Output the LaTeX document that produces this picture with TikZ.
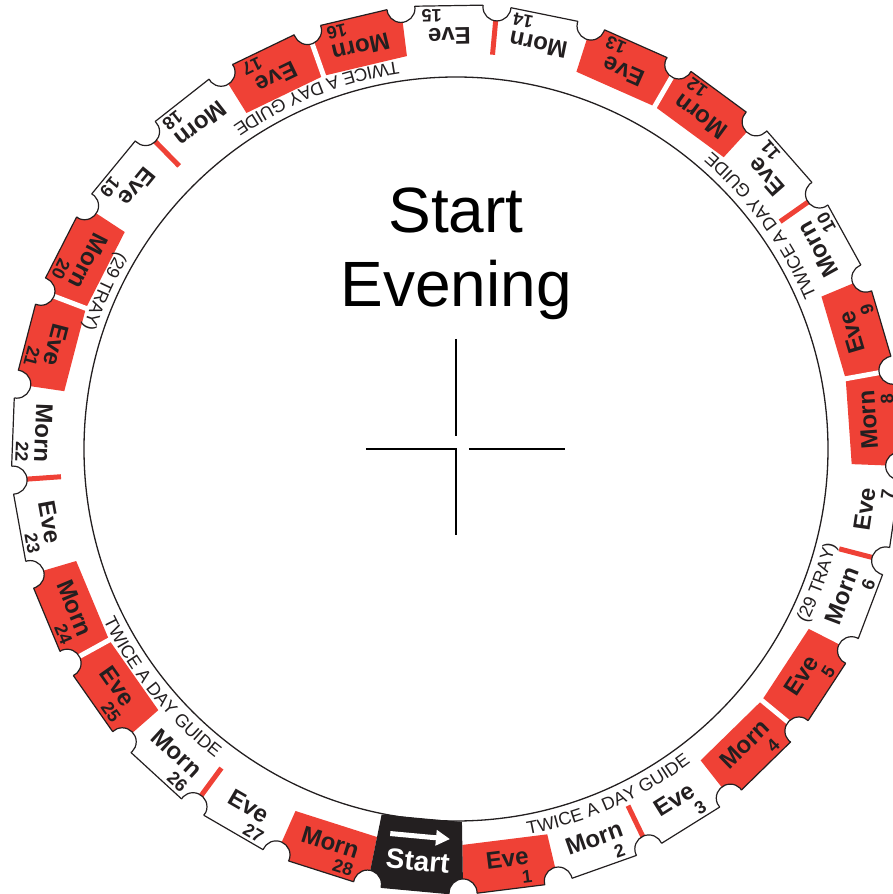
\documentclass[tikz,border=0pt]{standalone}
\usepackage{fontspec}
\setmainfont{Liberation Sans}
\usetikzlibrary{decorations.text,arrows.meta}
\definecolor{rouge}{RGB}{239,65,54}
\definecolor{encre}{RGB}{35,31,32}
\newcommand\taille[1]{\fontsize{#1}{#1}\selectfont}
\newcommand\guidefont{\fontsize{18}{18}\selectfont}
\def\pas{12.41379}
\def\debut{258.5}

\begin{document}
\begin{tikzpicture}[x=1pt, y=1pt,
		mot/.style={font=\bfseries\taille{24}, text=encre, inner sep=0pt},
		num/.style={font=\bfseries\taille{18}, text=encre, inner sep=0pt},
		titre/.style={font=\taille{64}, text=black, inner sep=0pt, anchor=base},
		guide/.style={decorate, decoration={text along path, text align=center,
			text color=encre, text={|\guidefont|#1}}}]
		\useasboundingbox (-456,-445) rectangle (437,449);
		% anneau, sans les encoches
		\begin{scope}[even odd rule]
			\clip (-500,-500) rectangle (500,500)
				\foreach \k in {0,...,28} { ({\debut+\k*\pas}:444) circle[radius=14] };
			\foreach \i in {1,4,5,8,9,12,13,16,17,20,21,24,25,28}
				\fill[rouge] ({\debut+\i*\pas}:396) -- ({\debut+\i*\pas}:446)
					-- ({\debut+(\i+1)*\pas}:446) -- ({\debut+(\i+1)*\pas}:396) -- cycle;
			\fill[encre] (\debut:373) -- (\debut:446) -- ({\debut+\pas}:446) -- ({\debut+\pas}:373) -- cycle;
			% séparations
			\foreach \k in {5,9,...,25}
				\draw[white, line width=5pt] ({\debut+\k*\pas}:390) -- ({\debut+\k*\pas}:450);
			\foreach \k in {3,7,...,27}
				\draw[rouge, line width=5pt] ({\debut+\k*\pas}:396) -- ({\debut+\k*\pas}:450);
			\draw[encre, line width=1.2pt] (\debut:446)
				\foreach \k in {1,...,28} { -- ({\debut+\k*\pas}:446) } -- cycle;
		\end{scope}
		% encoches
		\begin{scope}
			\clip (\debut:446) \foreach \k in {1,...,28} { -- ({\debut+\k*\pas}:446) } -- cycle;
			\foreach \k in {0,...,28}
				\draw[encre, line width=1.2pt] ({\debut+\k*\pas}:444) circle[radius=14];
		\end{scope}
		\draw[encre, line width=1.3pt] (0,0) circle[radius=372];
		% cases
		\foreach \i in {1,...,28} {
			\pgfmathsetmacro\c{\debut+(\i+0.5)*\pas}
			\pgfmathsetmacro\r{\c+90}
			\ifodd\i \def\lemot{Eve}\def\dec{2.3}\else\def\lemot{Morn}\def\dec{2.6}\fi
			\node[mot, rotate=\r] (w\i) at (\c:413) {\lemot};
			\node[num, rotate=\r] (n\i) at ({\c+\dec}:434) {\i};
		}
		% départ
		\pgfmathsetmacro\cz{\debut+0.5*\pas}
		\pgfmathsetmacro\rz{\cz+90}
		\node[mot, text=white, font=\bfseries\taille{28}, rotate=\rz] (depart) at (\cz:414) {Start};
		\begin{scope}[rotate=\rz]
			\coordinate (queue) at (-30,-389);
			\coordinate (pointe) at (30,-389);
			\draw[white, line width=5pt, -{Triangle[length=14pt, width=15pt]}] (queue) -- (pointe);
		\end{scope}
		% textes du bord
		\path[guide=TWICE A DAY GUIDE] (273.7:392) arc[start angle=273.7, end angle=313.7, radius=392];
		\path[guide=TWICE A DAY GUIDE] (16.2:392) arc[start angle=16.2, end angle=56.2, radius=392];
		\path[guide=TWICE A DAY GUIDE] (91.6:392) arc[start angle=91.6, end angle=131.6, radius=392];
		\path[guide=TWICE A DAY GUIDE] (199:392) arc[start angle=199, end angle=239, radius=392];
		\path[guide={(29 TRAY)}] (324.7:392) arc[start angle=324.7, end angle=354.7, radius=392];
		\path[guide={(29 TRAY)}] (140.9:392) arc[start angle=140.9, end angle=170.9, radius=392];
		% titre
		\node[titre] (debuttitre) at (0,216) {Start};
		\node[titre] (soir) at ([yshift=-74pt]debuttitre.base) {Evening};
		% croix
		\coordinate (o) at (0,0);
		\draw[black, line width=1.5pt] (0,110) -- (0,13);
		\draw[black, line width=1.5pt] (-90,0) -- (o) -- (0,-86);
		\draw[black, line width=1.5pt] (13,0) -- (109,0);
	\end{tikzpicture}
\end{document}
